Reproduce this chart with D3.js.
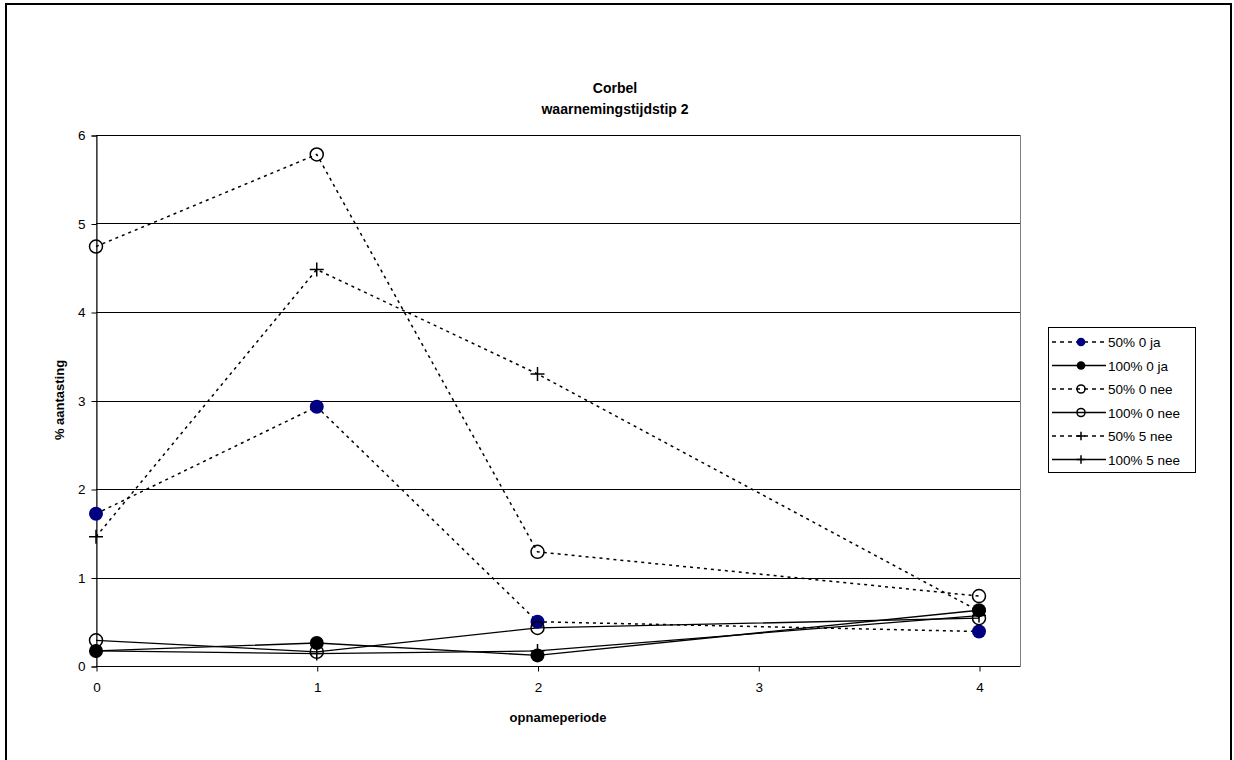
<!DOCTYPE html>
<html>
<head>
<meta charset="utf-8">
<script src="https://cdn.jsdelivr.net/npm/d3@7"></script>
<style>
  html, body { margin: 0; padding: 0; background: #fff; }
  svg { display: block; font-family: "Liberation Sans", Arial, sans-serif; }
</style>
</head>
<body>
<svg id="chart" width="1234" height="760"></svg>
<script>
// Observation periods and % infestation per treatment
const periods = [0, 1, 2, 4];
const xTicks = [0, 1, 2, 3, 4];
const yTicks = [0, 1, 2, 3, 4, 5, 6];

const seriesNames = ["50% 0 ja", "100% 0 ja", "50% 0 nee", "100% 0 nee", "50% 5 nee", "100% 5 nee"];
const v50_0ja   = [1.72, 2.93, 0.50, 0.39];
const v100_0ja  = [0.17, 0.26, 0.12, 0.63];
const v50_0nee  = [4.74, 5.78, 1.29, 0.79];
const v100_0nee = [0.29, 0.16, 0.43, 0.54];
const v50_5nee  = [1.46, 4.48, 3.30, 0.62];
const v100_5nee = [0.17, 0.14, 0.17, 0.57];

const seriesValues = [v50_0ja, v100_0ja, v50_0nee, v100_0nee, v50_5nee, v100_5nee];
const markerKinds = ["dotNavy", "dotBlack", "ring", "ring", "plus", "plus"];
const dashed = [true, false, true, false, true, false];

const svg = d3.select("#chart");
const plotLeft = 96, plotRight = 1020, plotTop = 135, plotBottom = 666;

const x = d3.scaleLinear().domain([0, 4]).range([plotLeft, 979]);
const y = d3.scaleLinear().domain([0, 6]).range([plotBottom, plotTop]);

// Outer chart frame
svg.append("rect").attr("x", 6).attr("y", 4).attr("width", 1225).attr("height", 760)
  .attr("fill", "#fff").attr("stroke", "#000").attr("stroke-width", 2);

// Title
svg.append("text").attr("x", 615).attr("y", 93).attr("text-anchor", "middle")
  .attr("font-size", 14).attr("font-weight", "bold").text("Corbel");
svg.append("text").attr("x", 615).attr("y", 114).attr("text-anchor", "middle")
  .attr("font-size", 14).attr("font-weight", "bold").text("waarnemingstijdstip 2");

// Plot area frame
svg.append("rect").attr("x", plotLeft).attr("y", plotTop).attr("width", plotRight - plotLeft).attr("height", plotBottom - plotTop)
  .attr("fill", "none").attr("stroke", "#808080").attr("stroke-width", 1)
  .attr("shape-rendering", "crispEdges");

// Horizontal gridlines
svg.append("g").selectAll("line").data(yTicks.filter(d => d > 0)).join("line")
  .attr("x1", plotLeft).attr("x2", plotRight)
  .attr("y1", d => Math.round(y(d)) + 0.5).attr("y2", d => Math.round(y(d)) + 0.5)
  .attr("stroke", "#000").attr("stroke-width", 1);

// Y axis
const yAxis = d3.axisLeft(y).tickValues(yTicks).tickSize(5).tickPadding(6).tickFormat(d3.format("d"));
const gy = svg.append("g").attr("transform", `translate(${plotLeft + 0.5},0.5)`).call(yAxis);
gy.select(".domain").attr("stroke", "#000");
gy.selectAll("line").attr("stroke", "#000");
gy.selectAll("text").attr("font-size", 13.5).attr("font-family", "Liberation Sans, Arial, sans-serif").attr("fill", "#000");

// X axis
const xAxis = d3.axisBottom(x).tickValues(xTicks).tickSize(5).tickPadding(11).tickFormat(d3.format("d"));
const gx = svg.append("g").attr("transform", `translate(0.5,${plotBottom + 0.5})`).call(xAxis);
gx.select(".domain").attr("d", `M${plotLeft - 0.5},0H${plotRight - 0.5}`).attr("stroke", "#000");
gx.selectAll("line").attr("stroke", "#000");
gx.selectAll("text").attr("font-size", 13.5).attr("font-family", "Liberation Sans, Arial, sans-serif").attr("fill", "#000");

// Axis titles
svg.append("text").attr("x", 558).attr("y", 722).attr("text-anchor", "middle")
  .attr("font-size", 13).attr("font-weight", "bold").text("opnameperiode");
svg.append("text").attr("transform", `translate(64,400) rotate(-90)`).attr("text-anchor", "middle")
  .attr("font-size", 13).attr("font-weight", "bold").text("% aantasting");

// Marker drawing
function drawMarker(g, kind, cx, cy, scale) {
  const s = scale || 1;
  if (kind === "dotNavy") {
    g.append("circle").attr("cx", cx).attr("cy", cy).attr("r", 7 * s).attr("fill", "#000080");
  } else if (kind === "dotBlack") {
    g.append("circle").attr("cx", cx).attr("cy", cy).attr("r", 7 * s).attr("fill", "#000");
  } else if (kind === "ring") {
    g.append("circle").attr("cx", cx).attr("cy", cy).attr("r", 6.5 * s)
      .attr("fill", "none").attr("stroke", "#000").attr("stroke-width", 1.5);
  } else if (kind === "plus") {
    const h = 7 * s;
    g.append("path").attr("d", `M${cx - h},${cy}H${cx + h}M${cx},${cy - h}V${cy + h}`)
      .attr("stroke", "#000").attr("stroke-width", 1.5).attr("fill", "none");
  }
}

const line = d3.line().x((d, i) => x(periods[i])).y(d => y(d));
const plot = svg.append("g");

seriesValues.forEach((vals, k) => {
  plot.append("path").datum(vals).attr("d", line)
    .attr("fill", "none").attr("stroke", "#000").attr("stroke-width", dashed[k] ? 1.5 : 1.3)
    .attr("stroke-dasharray", dashed[k] ? "3,4" : null);
});
seriesValues.forEach((vals, k) => {
  const g = plot.append("g");
  vals.forEach((v, i) => drawMarker(g, markerKinds[k], x(periods[i]), y(v)));
});

// Legend
const lg = svg.append("g");
lg.append("rect").attr("x", 1048.5).attr("y", 327.5).attr("width", 147).attr("height", 145)
  .attr("fill", "#fff").attr("stroke", "#000").attr("stroke-width", 1);
seriesNames.forEach((name, k) => {
  const ly = 342 + k * 23.5;
  lg.append("line").attr("x1", 1052).attr("x2", 1106).attr("y1", ly).attr("y2", ly)
    .attr("stroke", "#000").attr("stroke-width", 1.3)
    .attr("stroke-dasharray", dashed[k] ? "4,4" : null);
  drawMarker(lg, markerKinds[k], 1081, ly, 0.62);
  lg.append("text").attr("x", 1108).attr("y", ly + 5).attr("font-size", 13.5).text(name);
});
</script>
</body>
</html>
